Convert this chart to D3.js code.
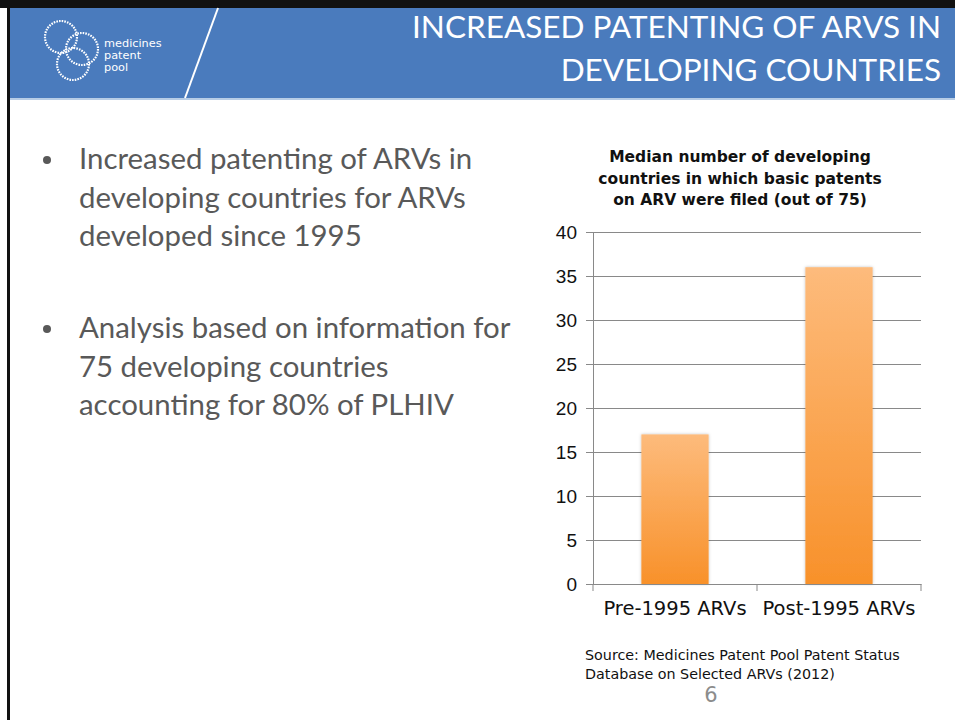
<!DOCTYPE html>
<html>
<head>
<meta charset="utf-8">
<script src="https://cdn.jsdelivr.net/npm/d3@7"></script>
<style>
  body { margin: 0; background: #fff; }
  svg { display: block; }
</style>
</head>
<body>
<div id="slide"></div>
<script>
// chart data
const categories = ["Pre-1995 ARVs", "Post-1995 ARVs"]
const values = [17, 36]
const yTicks = [0, 5, 10, 15, 20, 25, 30, 35, 40]

const titleLines = ["INCREASED PATENTING OF ARVS IN", "DEVELOPING COUNTRIES"]
const bullets = [
  ["Increased patenting of ARVs in", "developing countries for ARVs", "developed since 1995"],
  ["Analysis based on information for", "75 developing countries", "accounting for 80% of PLHIV"]
]
const chartTitle = ["Median number of developing", "countries in which basic patents", "on ARV were filed (out of 75)"]
const sourceLines = ["Source: Medicines Patent Pool Patent Status", "Database on Selected ARVs (2012)"]

const W = 955, H = 720
const svg = d3.select("#slide").append("svg")
  .attr("width", W).attr("height", H)

// frame + header
svg.append("rect").attr("x", 0).attr("y", 0).attr("width", W).attr("height", 8).attr("fill", "#111")
svg.append("rect").attr("x", 7).attr("y", 0).attr("width", 3).attr("height", H).attr("fill", "#111")
svg.append("rect").attr("x", 10).attr("y", 8).attr("width", W - 10).attr("height", 90).attr("fill", "#4a7bbd")
svg.append("rect").attr("x", 10).attr("y", 98).attr("width", W - 10).attr("height", 2).attr("fill", "#b7cde6")
svg.append("line").attr("x1", 218).attr("y1", 8).attr("x2", 185).attr("y2", 98)
  .attr("stroke", "#fff").attr("stroke-width", 2)

// logo
const logo = svg.append("g")
const rings = [[61, 37, 16], [82, 49, 16], [73, 64, 16]]
logo.selectAll("circle").data(rings).join("circle")
  .attr("cx", d => d[0]).attr("cy", d => d[1]).attr("r", d => d[2])
  .attr("fill", "none").attr("stroke", "#fff").attr("stroke-width", 2.2)
  .attr("stroke-dasharray", "1.6 1.1")
logo.selectAll("text").data(["medicines", "patent", "pool"]).join("text")
  .attr("x", 104).attr("y", (d, i) => 47 + i * 11.8)
  .attr("fill", "#fff").style("font-family", "'DejaVu Sans', sans-serif")
  .style("font-size", "11.3px").text(d => d)

svg.append("g").selectAll("text").data(titleLines).join("text")
  .attr("x", 941).attr("y", (d, i) => 38 + i * 43)
  .attr("text-anchor", "end").attr("fill", "#fff")
  .style("font-family", "Lato, 'Open Sans', sans-serif").style("font-size", "31.5px")
  .text(d => d)

// bullet text
const bg = svg.append("g").style("font-family", "Lato, 'Open Sans', sans-serif")
  .style("font-size", "29.4px").attr("fill", "#595959")
bullets.forEach((lines, b) => {
  const y0 = 169 + b * 169
  bg.append("circle").attr("cx", 47).attr("cy", y0 - 9).attr("r", 4).attr("fill", "#595959")
  bg.append("g").selectAll("text").data(lines).join("text")
    .attr("x", 79).attr("y", (d, i) => y0 + i * 38.5).text(d => d)
})

// chart
const margin = { top: 232, left: 593, right: 921, bottom: 584 }
const x = d3.scaleBand().domain(categories).range([margin.left, margin.right]).paddingInner(0.59).paddingOuter(0.295)
const y = d3.scaleLinear().domain([0, 40]).range([margin.bottom, margin.top])

const defs = svg.append("defs")
const grad = defs.append("linearGradient").attr("id", "barGrad")
  .attr("x1", 0).attr("y1", 0).attr("x2", 0).attr("y2", 1)
grad.append("stop").attr("offset", "0%").attr("stop-color", "#fdbb7c")
grad.append("stop").attr("offset", "100%").attr("stop-color", "#f8912a")
const blur = defs.append("filter").attr("id", "shadow").attr("x", "-20%").attr("y", "-20%").attr("width", "140%").attr("height", "140%")
blur.append("feDropShadow").attr("dx", 0).attr("dy", 0).attr("stdDeviation", 1.5)
  .attr("flood-color", "#000").attr("flood-opacity", 0.25)

const yAxis = svg.append("g").attr("transform", `translate(${margin.left},0)`)
  .call(d3.axisLeft(y).tickValues(yTicks).tickSize(-(margin.right - margin.left)).tickPadding(16))
yAxis.select(".domain").attr("stroke", "#898989")
yAxis.selectAll(".tick line").attr("stroke", "#898989")
yAxis.selectAll(".tick text").attr("fill", "#111")
  .style("font-family", "'Liberation Sans', Arial, sans-serif").style("font-size", "19px")
// short outer tick marks
yAxis.selectAll(".tick").append("line").attr("x1", -7).attr("x2", 0).attr("stroke", "#898989")

svg.append("g").selectAll("rect").data(values).join("rect")
  .attr("x", (d, i) => x(categories[i]))
  .attr("y", d => y(d))
  .attr("width", x.bandwidth())
  .attr("height", d => y(0) - y(d))
  .attr("fill", "url(#barGrad)")
  .attr("filter", "url(#shadow)")

const xAxis = svg.append("g").attr("transform", `translate(0,${margin.bottom})`)
  .call(d3.axisBottom(x).tickSize(0).tickPadding(17))
xAxis.select(".domain").attr("stroke", "#898989")
xAxis.selectAll(".tick text").attr("fill", "#111")
  .style("font-family", "'DejaVu Sans', sans-serif").style("font-size", "19.5px")
// category separators
xAxis.selectAll(".sep").data(d3.range(categories.length + 1)).join("line")
  .attr("x1", i => margin.left + i * (margin.right - margin.left) / categories.length)
  .attr("x2", i => margin.left + i * (margin.right - margin.left) / categories.length)
  .attr("y1", 0).attr("y2", 7).attr("stroke", "#898989")

svg.append("g").selectAll("text").data(chartTitle).join("text")
  .attr("x", 740).attr("y", (d, i) => 162 + i * 21.5)
  .attr("text-anchor", "middle").attr("fill", "#111")
  .style("font-family", "'DejaVu Sans', sans-serif").style("font-weight", "bold").style("font-size", "15.5px")
  .text(d => d)

svg.append("g").selectAll("text").data(sourceLines).join("text")
  .attr("x", 585).attr("y", (d, i) => 660 + i * 19)
  .attr("fill", "#111").style("font-family", "'DejaVu Sans', sans-serif").style("font-size", "14.3px")
  .text(d => d)

svg.append("text").attr("x", 711).attr("y", 702).attr("text-anchor", "middle")
  .attr("fill", "#8c8c8c").style("font-family", "'DejaVu Sans', sans-serif").style("font-size", "21px")
  .text("6")
</script>
</body>
</html>
